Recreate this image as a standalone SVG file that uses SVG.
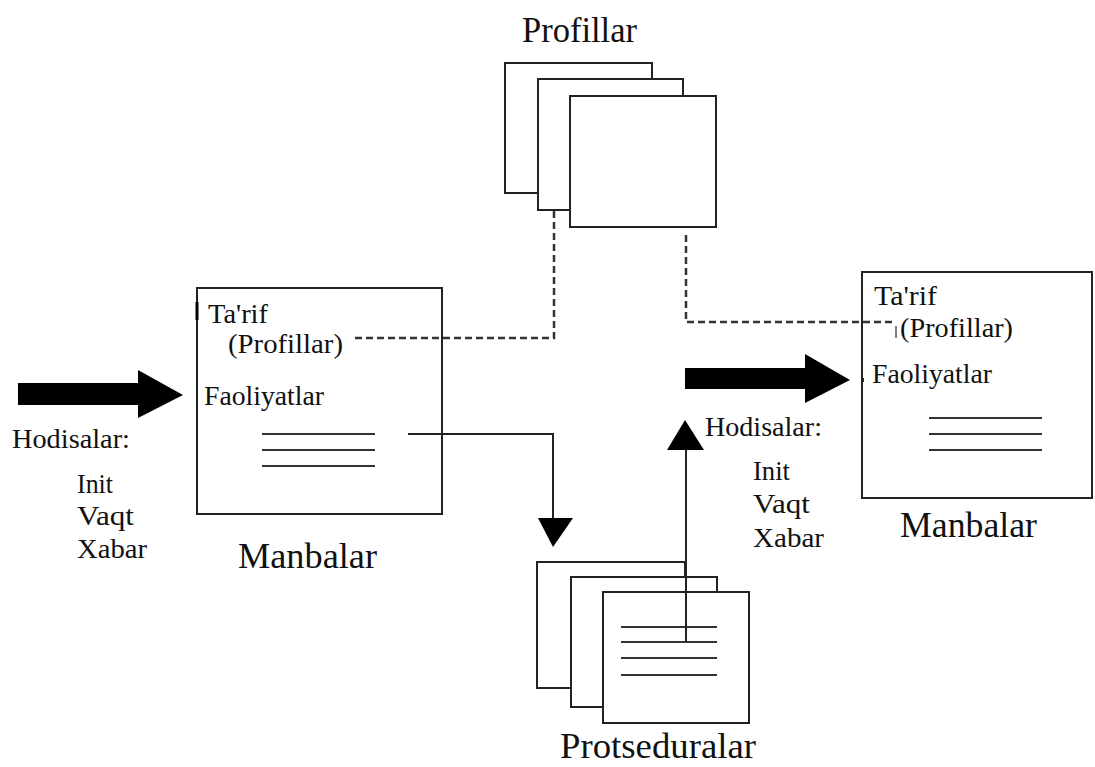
<svg xmlns="http://www.w3.org/2000/svg" width="1095" height="767" viewBox="0 0 1095 767" font-family="Liberation Serif">
  <style>
    .box { fill: #fff; stroke: #222; stroke-width: 2; }
    .rule { stroke: #333; stroke-width: 2; fill: none; }
    .link { stroke: #222; stroke-width: 2; fill: none; }
    .dash { stroke: #333; stroke-width: 2.5; fill: none; stroke-dasharray: 7 4; }
    .solid { fill: #000; stroke: none; }
    .sm { font-size: 28px; fill: #111; }
    .lg { font-size: 35px; fill: #111; }
  </style>

  <rect width="1095" height="767" fill="#fff"/>

  <!-- Profile stack -->
  <g id="profillar">
    <rect class="box" x="505" y="63" width="147" height="130"/>
    <rect class="box" x="538" y="79" width="145" height="131"/>
    <rect class="box" x="570" y="96" width="146" height="131"/>
    <text class="lg" x="522" y="42" font-family="Liberation Serif" textLength="115" lengthAdjust="spacingAndGlyphs">Profillar</text>
  </g>

  <!-- Source on the left -->
  <g id="manbalar-left">
    <rect class="box" x="197" y="288" width="245" height="226"/>
    <line x1="197" y1="302" x2="197" y2="320" stroke="#000" stroke-width="3"/>
    <text class="sm" x="208" y="323" font-family="Liberation Serif" textLength="60" lengthAdjust="spacingAndGlyphs">Ta'rif</text>
    <text class="sm" x="228" y="353" font-family="Liberation Serif" textLength="115" lengthAdjust="spacingAndGlyphs">(Profillar)</text>
    <text class="sm" x="204" y="405" font-family="Liberation Serif" textLength="120" lengthAdjust="spacingAndGlyphs">Faoliyatlar</text>
    <line class="rule" x1="262" y1="434" x2="375" y2="434"/>
    <line class="rule" x1="262" y1="450" x2="375" y2="450"/>
    <line class="rule" x1="262" y1="466" x2="375" y2="466"/>
    <text class="lg" x="238" y="568" font-family="Liberation Serif" textLength="139" lengthAdjust="spacingAndGlyphs">Manbalar</text>
  </g>

  <!-- Events feeding the left source -->
  <g id="hodisalar-left">
    <text class="sm" x="12" y="448" font-family="Liberation Serif" textLength="118" lengthAdjust="spacingAndGlyphs">Hodisalar:</text>
    <text class="sm" x="77" y="493" font-family="Liberation Serif" textLength="36" lengthAdjust="spacingAndGlyphs">Init</text>
    <text class="sm" x="77" y="525" font-family="Liberation Serif" textLength="57" lengthAdjust="spacingAndGlyphs">Vaqt</text>
    <text class="sm" x="77" y="558" font-family="Liberation Serif" textLength="70" lengthAdjust="spacingAndGlyphs">Xabar</text>
  </g>

  <!-- Procedure stack -->
  <g id="protseduralar">
    <rect class="box" x="537" y="562" width="148" height="126"/>
    <rect class="box" x="571" y="577" width="146" height="130"/>
    <rect class="box" x="603" y="592" width="146" height="131"/>
    <line class="rule" x1="621" y1="627" x2="717" y2="627"/>
    <line class="rule" x1="621" y1="642" x2="717" y2="642"/>
    <line class="rule" x1="621" y1="658" x2="717" y2="658"/>
    <line class="rule" x1="621" y1="675" x2="717" y2="675"/>
    <text class="lg" x="560" y="758" font-size="34" font-family="Liberation Serif" textLength="196" lengthAdjust="spacingAndGlyphs">Protseduralar</text>
  </g>

  <!-- Source on the right -->
  <g id="manbalar-right">
    <rect class="box" x="862" y="272" width="230" height="226"/>
    <text class="sm" x="874" y="305" font-family="Liberation Serif" textLength="63" lengthAdjust="spacingAndGlyphs">Ta'rif</text>
    <text class="sm" x="900" y="337" font-family="Liberation Serif" textLength="113" lengthAdjust="spacingAndGlyphs">(Profillar)</text>
    <line x1="896" y1="326" x2="896" y2="338" stroke="#555" stroke-width="1.5"/>
    <text class="sm" x="872" y="383" font-family="Liberation Serif" textLength="120" lengthAdjust="spacingAndGlyphs">Faoliyatlar</text>
    <rect x="862" y="378" width="2" height="4" fill="#222"/>
    <line class="rule" x1="929" y1="418" x2="1042" y2="418"/>
    <line class="rule" x1="929" y1="434" x2="1042" y2="434"/>
    <line class="rule" x1="929" y1="450" x2="1042" y2="450"/>
    <text class="lg" x="900" y="537" font-family="Liberation Serif" textLength="137" lengthAdjust="spacingAndGlyphs">Manbalar</text>
  </g>

  <!-- Events feeding the right source -->
  <g id="hodisalar-right">
    <text class="sm" x="705" y="436" font-family="Liberation Serif" textLength="117" lengthAdjust="spacingAndGlyphs">Hodisalar:</text>
    <text class="sm" x="753" y="480" font-family="Liberation Serif" textLength="37" lengthAdjust="spacingAndGlyphs">Init</text>
    <text class="sm" x="753" y="513" font-family="Liberation Serif" textLength="57" lengthAdjust="spacingAndGlyphs">Vaqt</text>
    <text class="sm" x="753" y="547" font-family="Liberation Serif" textLength="71" lengthAdjust="spacingAndGlyphs">Xabar</text>
  </g>

  <!-- Connectors -->
  <g id="connectors">
    <!-- event arrows -->
    <polygon class="solid" points="18,383 138,383 138,370 183,395 138,418 138,405 18,405"/>
    <polygon class="solid" points="685,368 805,368 805,354 850,380 805,403 805,389 685,389"/>
    <!-- source to procedures -->
    <polyline class="link" points="408,434 553,434 553,519"/>
    <polygon class="solid" points="538,518 573,518 553,547"/>
    <!-- procedures back up to events -->
    <line class="link" x1="686" y1="642" x2="686" y2="449"/>
    <polygon class="solid" points="667,450 704,450 685,420"/>
    <!-- profile references -->
    <polyline class="dash" points="554,211 554,338 352,338"/>
    <polyline class="dash" points="686,235 686,322 893,322"/>
  </g>
</svg>
